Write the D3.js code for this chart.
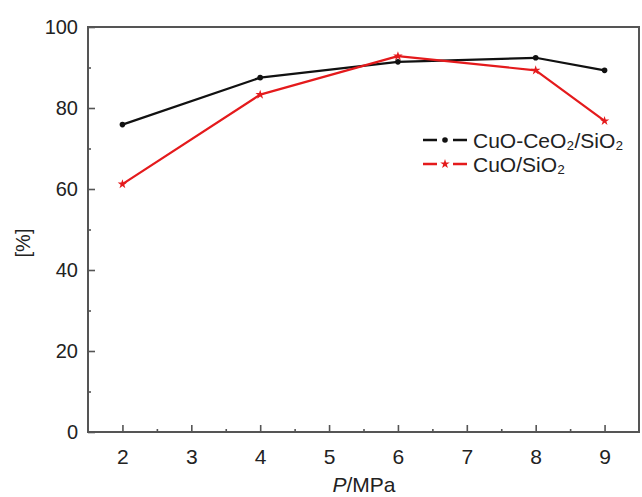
<!DOCTYPE html>
<html>
<head>
<meta charset="utf-8">
<script src="https://cdn.jsdelivr.net/npm/d3@7"></script>
<style>
  html, body { margin: 0; padding: 0; background: #fff; }
  svg { display: block; font-family: "Liberation Sans", Arial, sans-serif; }
</style>
</head>
<body>
<svg id="chart" width="642" height="497"></svg>
<script>
// Pressure (MPa) and selectivity (%) for the two catalysts
const pressures = [2, 4, 6, 8, 9];
const ceriaSeries = [75.9, 87.5, 91.4, 92.4, 89.3];   // CuO-CeO2/SiO2
const plainSeries = [61.2, 83.3, 92.8, 89.3, 76.8];   // CuO/SiO2
const xTicks = [2, 3, 4, 5, 6, 7, 8, 9];
const yTicks = [0, 20, 40, 60, 80, 100];
const seriesNames = ["CuO-CeO₂/SiO₂", "CuO/SiO₂"];

const svg = d3.select("#chart");
const plotLeft = 88, plotRight = 639, plotTop = 27, plotBottom = 432;

const x = d3.scaleLinear().domain([1.5, 9.5]).range([plotLeft, plotRight]);
const y = d3.scaleLinear().domain([0, 100]).range([plotBottom, plotTop]);

const axisColor = "#555";
const textColor = "#222";

// frame
svg.append("rect")
  .attr("x", plotLeft).attr("y", plotTop)
  .attr("width", plotRight - plotLeft).attr("height", plotBottom - plotTop)
  .attr("fill", "none").attr("stroke", axisColor).attr("stroke-width", 2);

// bottom axis: inward major ticks plus minor ticks at half steps
const xAxis = svg.append("g").attr("transform", `translate(0,${plotBottom})`)
  .call(d3.axisBottom(x).tickValues(xTicks).tickSize(-7).tickPadding(17).tickFormat(d3.format("d")));
xAxis.select(".domain").remove();
xAxis.selectAll(".tick line").attr("stroke", axisColor).attr("stroke-width", 1.6);
xAxis.selectAll(".tick text").attr("fill", textColor).attr("font-size", 21)
  .attr("font-family", "'Liberation Sans', Arial, sans-serif");
const xMinor = svg.append("g").attr("transform", `translate(0,${plotBottom})`)
  .call(d3.axisBottom(x).tickValues(xTicks.slice(0, -1).map(v => v + 0.5)).tickSize(-3).tickFormat(""));
xMinor.select(".domain").remove();
xMinor.selectAll(".tick line").attr("stroke", axisColor).attr("stroke-width", 1.6);

// left axis
const yAxis = svg.append("g").attr("transform", `translate(${plotLeft},0)`)
  .call(d3.axisLeft(y).tickValues(yTicks).tickSize(-7).tickPadding(10).tickFormat(d3.format("d")));
yAxis.select(".domain").remove();
yAxis.selectAll(".tick line").attr("stroke", axisColor).attr("stroke-width", 1.6);
yAxis.selectAll(".tick text").attr("fill", textColor).attr("font-size", 20)
  .attr("font-family", "'Liberation Sans', Arial, sans-serif");
const yMinor = svg.append("g").attr("transform", `translate(${plotLeft},0)`)
  .call(d3.axisLeft(y).tickValues(yTicks.slice(0, -1).map(v => v + 10)).tickSize(-3).tickFormat(""));
yMinor.select(".domain").remove();
yMinor.selectAll(".tick line").attr("stroke", axisColor).attr("stroke-width", 1.6);

// axis titles
const xTitle = svg.append("text")
  .attr("x", 364).attr("y", 492).attr("text-anchor", "middle")
  .attr("font-size", 21).attr("fill", textColor);
xTitle.append("tspan").attr("font-style", "italic").text("P");
xTitle.append("tspan").text("/MPa");

svg.append("text")
  .attr("transform", "translate(30,243) rotate(-90)")
  .attr("text-anchor", "middle").attr("font-size", 20).attr("fill", textColor)
  .text("[%]");

// series
const series = [
  { name: seriesNames[0], values: ceriaSeries, color: "#111", marker: "circle" },
  { name: seriesNames[1], values: plainSeries, color: "#e41a1c", marker: "star" }
];

const line = d3.line().x(d => x(d[0])).y(d => y(d[1]));

function drawMarker(g, type, color) {
  if (type === "circle") {
    g.append("circle").attr("r", 2.8).attr("fill", color);
  } else {
    g.append("path").attr("d", d3.symbol(d3.symbolStar, 28)()).attr("fill", color);
  }
}

series.forEach(s => {
  const pts = pressures.map((p, i) => [p, s.values[i]]);
  svg.append("path").datum(pts)
    .attr("d", line).attr("fill", "none")
    .attr("stroke", s.color).attr("stroke-width", 2.2).attr("stroke-linejoin", "round");
  pts.forEach(p => {
    const g = svg.append("g").attr("transform", `translate(${x(p[0])},${y(p[1])})`);
    drawMarker(g, s.marker, s.color);
  });
});

// legend
const legendRows = [140, 164];
series.forEach((s, i) => {
  const ly = legendRows[i];
  svg.append("line")
    .attr("x1", 423).attr("x2", 469).attr("y1", ly).attr("y2", ly)
    .attr("stroke", s.color).attr("stroke-width", 2.4)
    .attr("stroke-dasharray", "14,16");
  const g = svg.append("g").attr("transform", `translate(445,${ly})`);
  drawMarker(g, s.marker, s.color);
  svg.append("text")
    .attr("x", 473).attr("y", ly + 7.5)
    .attr("font-size", 21).attr("fill", textColor)
    .text(s.name);
});
</script>
</body>
</html>
